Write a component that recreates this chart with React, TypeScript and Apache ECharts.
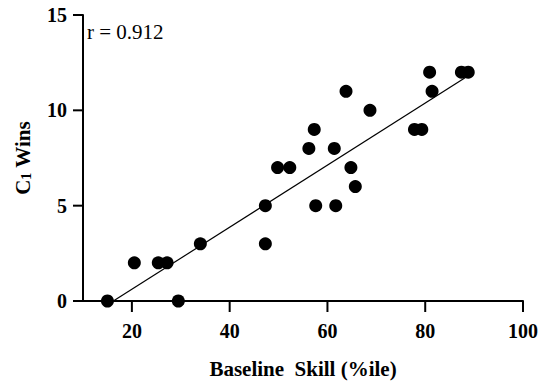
import React, { useEffect, useRef } from "react";
import * as echarts from "echarts";

const skillX = [15, 29.5, 20.5, 25.4, 27.2, 34, 47.3, 47.3, 49.8, 52.3, 56.2, 57.3, 57.6, 61.4, 61.7, 63.8, 64.8, 65.7, 68.7, 77.8, 79.3, 80.9, 81.4, 87.4, 88.8];
const winsY = [0, 0, 2, 2, 2, 3, 3, 5, 7, 7, 8, 9, 5, 8, 5, 11, 7, 6, 10, 9, 9, 12, 11, 12, 12];
const fitRange = [16.2, 88.8];
const fitSlope = 0.1628;
const fitIntercept = -2.64;
const xRange = [10, 100];
const xTickValues = [20, 40, 60, 80, 100];
const yRange = [0, 15];
const yTickValues = [0, 5, 10, 15];
const rLabel = "r = 0.912";

const FONT = "'Liberation Serif', 'Times New Roman', serif";

const PLOT_LEFT = 83;
const PLOT_RIGHT = 19;
const PLOT_TOP = 15;
const PLOT_BOTTOM = 79;
const X_TICK_PX = 11;
const Y_TICK_PX = 10;
const AXIS_W = 2;

export default function App() {
  const ref = useRef<HTMLDivElement>(null);
  useEffect(() => {
    const chart = echarts.init(ref.current!, undefined, { renderer: "svg" });
    const points = skillX.map((x, i) => [x, winsY[i]]);
    const fit = fitRange.map((x) => [x, fitSlope * x + fitIntercept]);
    const axisStyle = { stroke: "#000", lineWidth: AXIS_W, fill: null };
    chart.setOption({
      animation: false,
      backgroundColor: "#fff",
      grid: { left: PLOT_LEFT, right: PLOT_RIGHT, top: PLOT_TOP, bottom: PLOT_BOTTOM },
      xAxis: {
        type: "value",
        min: xRange[0],
        max: xRange[1],
        interval: 10,
        z: 10,
        name: "Baseline  Skill (%ile)",
        nameLocation: "middle",
        nameGap: 57,
        nameTextStyle: { fontFamily: FONT, fontWeight: "bold", fontSize: 21, color: "#000" },
        axisLine: { show: true, onZero: false, lineStyle: { color: "#000", width: AXIS_W } },
        axisTick: { show: false },
        axisLabel: {
          margin: 20,
          fontFamily: FONT,
          fontWeight: "bold",
          fontSize: 20,
          color: "#000",
          formatter: (v: number) => (xTickValues.indexOf(v) >= 0 ? String(v) : ""),
        },
        splitLine: { show: false },
      },
      yAxis: {
        type: "value",
        min: yRange[0],
        max: yRange[1],
        interval: 5,
        z: 10,
        name: "{b|C}{s|1}{b| Wins}",
        nameLocation: "middle",
        nameGap: 50,
        nameRotate: 90,
        nameTextStyle: {
          color: "#000",
          rich: {
            b: { fontFamily: FONT, fontWeight: "bold", fontSize: 21, color: "#000", lineHeight: 24, verticalAlign: "bottom" },
            s: { fontFamily: FONT, fontWeight: "bold", fontSize: 14, color: "#000", lineHeight: 10, verticalAlign: "bottom" },
          },
        },
        axisLine: { show: true, onZero: false, lineStyle: { color: "#000", width: AXIS_W } },
        axisTick: { show: false },
        axisLabel: { margin: 16, fontFamily: FONT, fontWeight: "bold", fontSize: 20, color: "#000" },
        splitLine: { show: false },
      },
      graphic: [
        {
          type: "text",
          left: 87,
          top: 21,
          style: { text: rLabel, fontFamily: FONT, fontSize: 21, fill: "#000" },
        },
      ],
      series: [
        {
          type: "line",
          data: fit,
          symbol: "none",
          lineStyle: { color: "#000", width: 1.2 },
          z: 3,
        },
        {
          type: "scatter",
          data: points,
          symbol: "circle",
          symbolSize: 13,
          itemStyle: { color: "#000", opacity: 1 },
          z: 4,
        },
        {
          type: "custom",
          name: "axesFrame",
          silent: true,
          z: 20,
          data: [[xRange[0], yRange[0]]],
          renderItem: (params: any, api: any) => {
            const corner = api.coord([xRange[0], yRange[0]]);
            const top = api.coord([xRange[0], yRange[1]]);
            const right = api.coord([xRange[1], yRange[0]]);
            return {
              type: "polyline",
              shape: { points: [[top[0], top[1]], [corner[0], corner[1]], [right[0], right[1]]] },
              style: axisStyle,
            };
          },
        },
        {
          type: "custom",
          name: "xTicks",
          silent: true,
          z: 20,
          data: xTickValues.map((v) => [v, yRange[0]]),
          renderItem: (params: any, api: any) => {
            const p = api.coord([api.value(0), api.value(1)]);
            return {
              type: "line",
              shape: { x1: p[0], y1: p[1], x2: p[0], y2: p[1] + X_TICK_PX },
              style: axisStyle,
            };
          },
        },
        {
          type: "custom",
          name: "yTicks",
          silent: true,
          z: 20,
          data: yTickValues.map((v) => [xRange[0], v]),
          renderItem: (params: any, api: any) => {
            const p = api.coord([api.value(0), api.value(1)]);
            return {
              type: "line",
              shape: { x1: p[0] - Y_TICK_PX, y1: p[1], x2: p[0], y2: p[1] },
              style: axisStyle,
            };
          },
        },
      ],
    });
    return () => chart.dispose();
  }, []);
  return <div ref={ref} style={{ width: 542, height: 384, position: "absolute", left: 0, top: 0 }} />;
}
